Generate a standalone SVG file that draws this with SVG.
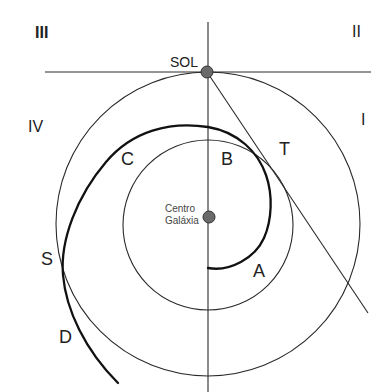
<svg xmlns="http://www.w3.org/2000/svg" width="371" height="392" viewBox="0 0 371 392">
<style>
.thin{fill:none;stroke:#2a2a2a;stroke-width:1.1}
.thick{fill:none;stroke:#111;stroke-width:2.3;stroke-linecap:round}
.lbl{font-family:"Liberation Sans",Arial,sans-serif;fill:#222;font-size:18px}
.rom{font-family:"Liberation Sans",Arial,sans-serif;fill:#222;font-size:16px}
.small{font-family:"Liberation Sans",Arial,sans-serif;fill:#444;font-size:10px}
.dot{fill:#6a6a6a;stroke:#333;stroke-width:1}
</style>
<rect width="371" height="392" fill="#fff"/>
<g id="connectors">
<line class="thin" x1="208" y1="22" x2="208" y2="392"/>
<line class="thin" x1="45" y1="72" x2="371" y2="72"/>
<circle class="thin" cx="208" cy="224" r="152"/>
<circle class="thin" cx="208" cy="225" r="85"/>
<line class="thin" x1="207" y1="72" x2="368" y2="313"/>
<path class="thick" d="M208,268 C230,272 255,258 264,238 C272,220 273,195 266,175 C258,152 238,132 208,127 C170,121 132,131 106,162 C77,196 60,240 63,275 C66,310 85,350 118,383"/>
</g>
<g id="sol">
<circle class="dot" cx="207" cy="72" r="6"/>
<text class="lbl" x="170" y="67" style="font-size:14px">SOL</text>
</g>
<g id="centro">
<circle class="dot" cx="209" cy="217" r="6"/>
<text class="small" x="165" y="212">Centro</text>
<text class="small" x="165" y="224">Galáxia</text>
</g>
<g id="quadrants">
<text class="rom" x="35" y="38" style="font-weight:bold">III</text>
<text class="rom" x="352" y="37">II</text>
<text class="rom" x="28" y="132">IV</text>
<text class="rom" x="361" y="125">I</text>
</g>
<g id="labels">
<text class="lbl" x="121" y="165">C</text>
<text class="lbl" x="221" y="165">B</text>
<text class="lbl" x="279" y="155">T</text>
<text class="lbl" x="253" y="277">A</text>
<text class="lbl" x="41" y="265">S</text>
<text class="lbl" x="59" y="343">D</text>
</g>
</svg>
